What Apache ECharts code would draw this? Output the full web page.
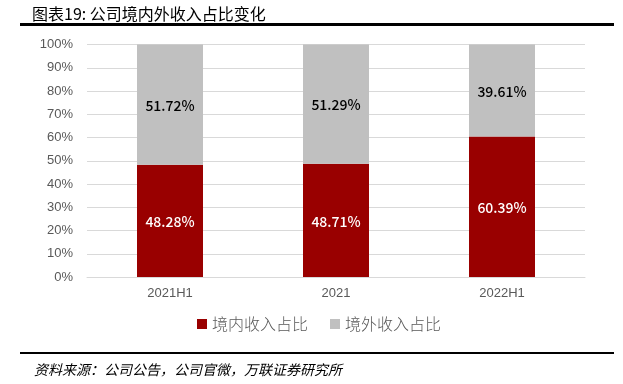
<!DOCTYPE html>
<html>
<head>
<meta charset="utf-8">
<script src="https://cdn.jsdelivr.net/npm/echarts@6/dist/echarts.min.js"></script>
<style>html,body{margin:0;padding:0;background:#fff}#c{width:623px;height:384px}</style>
</head>
<body>
<div id="c"></div>
<script>
const categories = ['2021H1', '2021', '2022H1'];
const domestic = [48.28, 48.71, 60.39];
const overseas = [51.72, 51.29, 39.61];
const seriesNames = ['境内收入占比', '境外收入占比'];
const yTicks = [0, 10, 20, 30, 40, 50, 60, 70, 80, 90, 100];

const chart = echarts.init(document.getElementById('c'));
const cjk = '"Noto Sans CJK SC", "Noto Sans", sans-serif';
chart.setOption({
  animation: false,
  title: [
    { text: '图表19: 公司境内外收入占比变化', left: 27, top: 1,
      textStyle: { fontSize: 16, fontWeight: 'normal', color: '#000', fontFamily: cjk } },
    { text: '资料来源：公司公告，公司官微，万联证券研究所', left: 29, top: 358,
      textStyle: { fontSize: 14, fontWeight: 'normal', fontStyle: 'italic', color: '#000', fontFamily: cjk } }
  ],
  graphic: [
    { type: 'rect', shape: { x: 20, y: 23, width: 594, height: 3 }, style: { fill: '#000' } },
    { type: 'rect', shape: { x: 20, y: 352, width: 594, height: 2 }, style: { fill: '#000' } }
  ],
  legend: {
    data: seriesNames, bottom: 47, left: 192, itemWidth: 10, itemHeight: 10, itemGap: 22,
    icon: 'rect',
    textStyle: { fontSize: 16, fontWeight: 300, color: '#595959', fontFamily: cjk }
  },
  grid: { left: 87, right: 38, top: 44.5, bottom: 107, containLabel: false },
  xAxis: {
    type: 'category', data: categories,
    axisLine: { lineStyle: { color: '#d9d9d9' } },
    axisTick: { show: false },
    axisLabel: { color: '#595959', fontSize: 13, margin: 10, fontFamily: 'Arial, "Liberation Sans", sans-serif' }
  },
  yAxis: {
    type: 'value', min: yTicks[0], max: yTicks[yTicks.length - 1], interval: 10,
    axisLine: { show: false }, axisTick: { show: false },
    splitLine: { lineStyle: { color: '#d9d9d9' } },
    axisLabel: { color: '#595959', fontSize: 13, margin: 14, formatter: v => v + '%',
      fontFamily: 'Arial, "Liberation Sans", sans-serif' }
  },
  series: [
    { name: seriesNames[0], type: 'bar', stack: 'a', data: domestic, barWidth: 66,
      itemStyle: { color: '#990000' },
      label: { show: true, position: 'inside', color: '#fff', fontSize: 14, fontWeight: 500, fontFamily: cjk,
        offset: [0, 1], formatter: p => p.value.toFixed(2) + '%' } },
    { name: seriesNames[1], type: 'bar', stack: 'a', data: overseas, barWidth: 66,
      itemStyle: { color: '#c0c0c0' },
      label: { show: true, position: 'inside', color: '#000', fontSize: 14, fontWeight: 500, fontFamily: cjk,
        offset: [0, 1], formatter: p => p.value.toFixed(2) + '%' } }
  ]
});
</script>
</body>
</html>
